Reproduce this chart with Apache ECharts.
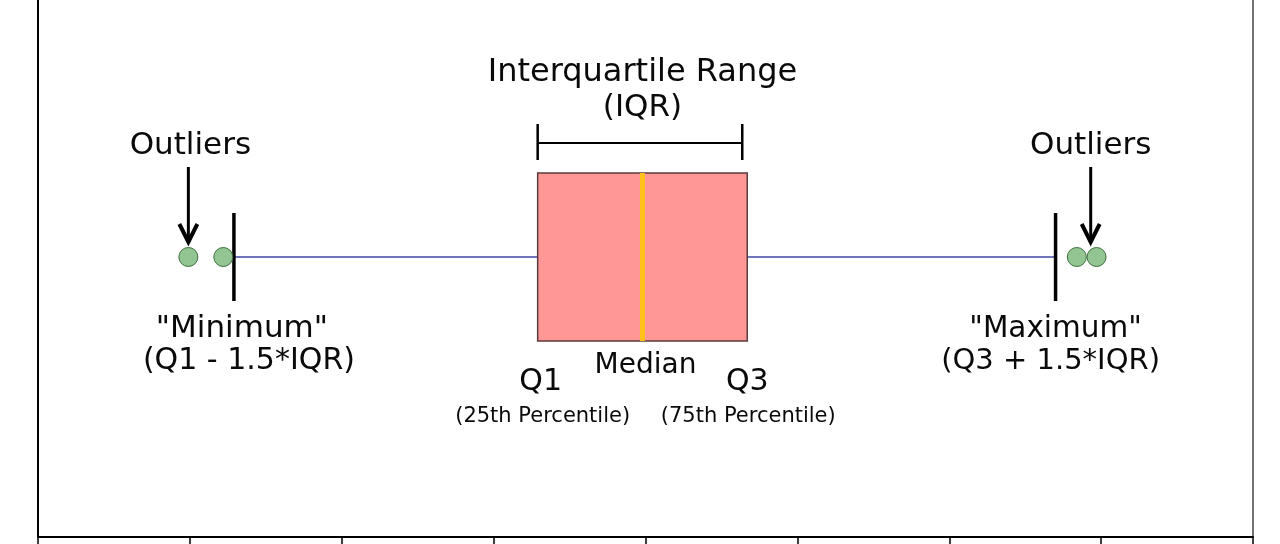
<!DOCTYPE html>
<html>
<head>
<meta charset="utf-8">
<style>
  html, body { margin: 0; padding: 0; background: #fff; }
  #main { width: 1280px; height: 544px; }
</style>
<script src="https://cdn.jsdelivr.net/npm/echarts@6/dist/echarts.min.js"></script>
</head>
<body>
<div id="main"></div>
<script>
// values, x axis runs 0..8
var tickValues = [0, 1, 2, 3, 4, 5, 6, 7, 8];
var boxStats = [1.29, 3.29, 3.98, 4.67, 6.70];   // min, Q1, median, Q3, max
var lowOutliers = [0.99, 1.22];
var highOutliers = [6.84, 6.97];
var statTitles = ['"Minimum"', 'Q1', 'Median', 'Q3', '"Maximum"'];
var statNotes = ['(Q1 - 1.5*IQR)', '(25th Percentile)', '', '(75th Percentile)', '(Q3 + 1.5*IQR)'];
var iqrTitle = ['Interquartile Range', '(IQR)'];
var outlierTitle = 'Outliers';

var FONT = '"DejaVu Sans", sans-serif';
var myChart = echarts.init(document.getElementById('main'));

function txt(x, y, s, size) {
    return {
        type: 'text', x: x, y: y,
        style: { text: s, font: size + 'px ' + FONT, fill: '#0a0a0a', align: 'center', verticalAlign: 'middle' }
    };
}
function seg(x1, y1, x2, y2, color, w) {
    return { type: 'line', shape: { x1: x1, y1: y1, x2: x2, y2: y2 }, style: { stroke: color, lineWidth: w } };
}
function arrow(x, yc) {
    return [
        seg(x, yc - 90, x, yc - 16, '#000', 3),
        { type: 'polyline', shape: { points: [[x - 9, yc - 33], [x, yc - 15], [x + 9, yc - 33]] },
          style: { stroke: '#000', lineWidth: 4, fill: null } }
    ];
}

function renderBox(params, api) {
    var row = api.value(5);
    var px = [0, 1, 2, 3, 4].map(function (i) { return api.coord([api.value(i), row])[0]; });
    var yc = api.coord([api.value(0), row])[1];
    var lowX = api.coord([lowOutliers[0], row])[0];
    var highX = (api.coord([highOutliers[0], row])[0] + api.coord([highOutliers[1], row])[0]) / 2 + 4;

    var els = [
        // whiskers
        seg(px[0], yc, px[1], yc, '#7076be', 2),
        seg(px[3], yc, px[4], yc, '#7076be', 2),
        // box and median
        { type: 'rect', shape: { x: px[1], y: yc - 84, width: px[3] - px[1], height: 168 },
          style: { fill: '#ff9797', stroke: '#5b3b3b', lineWidth: 1.5 } },
        seg(px[2], yc - 84, px[2], yc + 84, '#ffc11a', 5),
        // whisker ends
        seg(px[0], yc - 44, px[0], yc + 44, '#000', 3.5),
        seg(px[4], yc - 44, px[4], yc + 44, '#000', 3.5),
        // IQR bracket
        seg(px[1], yc - 114, px[3] - 5, yc - 114, '#000', 2),
        seg(px[1], yc - 133, px[1], yc - 97, '#000', 2.5),
        seg(px[3] - 5, yc - 133, px[3] - 5, yc - 97, '#000', 2.5),
        txt((px[1] + px[3]) / 2, yc - 184, iqrTitle[0], 32),
        txt((px[1] + px[3]) / 2, yc - 149, iqrTitle[1], 31),
        // labels under the box
        txt(px[0] + 8, yc + 72, statTitles[0], 31),
        txt(px[0] + 15, yc + 104, statNotes[0], 30),
        txt(px[1] + 3, yc + 125, statTitles[1], 30),
        txt(px[1] + 5, yc + 160, statNotes[1], 21),
        txt(px[2] + 3, yc + 109, statTitles[2], 28),
        txt(px[3], yc + 125, statTitles[3], 30),
        txt(px[3] + 1, yc + 160, statNotes[3], 21),
        txt(px[4], yc + 72, statTitles[4], 29.5),
        txt(px[4] - 5, yc + 104, statNotes[4], 29),
        // outlier pointers
        txt(lowX + 2, yc - 111, outlierTitle, 31),
        txt(highX, yc - 111, outlierTitle, 31)
    ];
    els = els.concat(arrow(lowX, yc), arrow(highX, yc));
    return { type: 'group', children: els };
}

var outlierData = lowOutliers.concat(highOutliers).map(function (v) { return [v, 0]; });

// hidden vertical scale: the row sits at 0, the range only places it in the frame
var yRange = { min: -280, max: 257 };

var option = {
    animation: false,
    grid: { left: 38, right: 27, top: 0, bottom: 7 },
    xAxis: {
        type: 'value',
        min: tickValues[0],
        max: tickValues[tickValues.length - 1],
        interval: 1,
        axisLine: { show: true, onZero: false, lineStyle: { color: '#000', width: 2 } },
        axisTick: { show: true, length: 7, lineStyle: { color: '#000', width: 1.5 } },
        axisLabel: { show: false },
        splitLine: { show: false }
    },
    yAxis: [
        {
            type: 'value', position: 'left', min: yRange.min, max: yRange.max,
            axisLine: { show: true, onZero: false, lineStyle: { color: '#000', width: 2 } },
            axisTick: { show: false }, axisLabel: { show: false }, splitLine: { show: false }
        },
        {
            type: 'value', position: 'right', min: yRange.min, max: yRange.max,
            axisLine: { show: true, onZero: false, lineStyle: { color: '#444', width: 1.5 } },
            axisTick: { show: false }, axisLabel: { show: false }, splitLine: { show: false }
        }
    ],
    series: [
        {
            type: 'custom',
            renderItem: renderBox,
            clip: false,
            encode: { x: [0, 1, 2, 3, 4], y: 5 },
            data: [boxStats.concat([0])]
        },
        {
            type: 'scatter',
            symbolSize: 19,
            itemStyle: { color: '#93c593', borderColor: '#3e6e3e', borderWidth: 1, opacity: 1 },
            data: outlierData
        }
    ]
};
myChart.setOption(option);
</script>
</body>
</html>
